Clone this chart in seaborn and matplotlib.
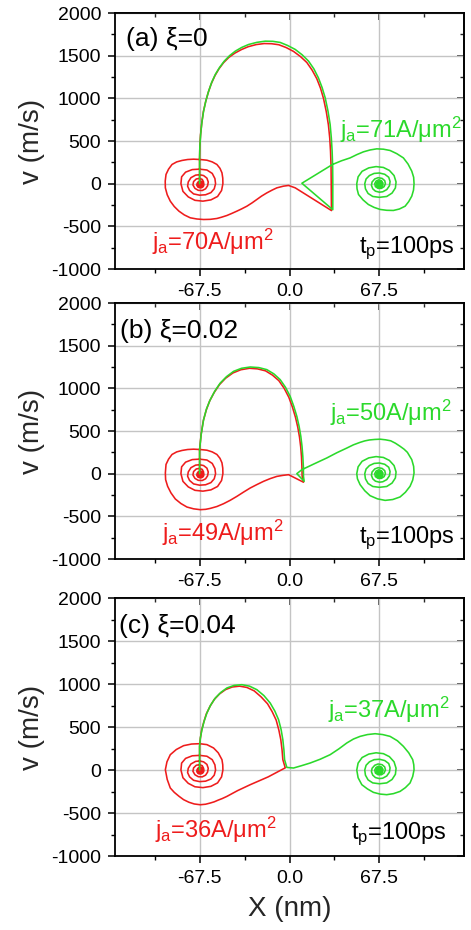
import numpy as np
import pandas as pd
import matplotlib
matplotlib.use("Agg")
import matplotlib.pyplot as plt
import seaborn as sns
from matplotlib.ticker import MultipleLocator, FixedLocator

# ---------------- data ----------------
x_ticks = [-67.5, 0.0, 67.5]
x_tick_labels = ["-67.5", "0.0", "67.5"]
x_minor = [-101.25, -33.75, 33.75, 101.25]

# shared inner spirals (left pinning site, red; right pinning site, green)
left_spiral_x = [-50, -51, -54, -59, -65, -71, -76, -80, -81.5, -81, -78, -73, -67.5, -62, -58, -56,
                 -55.5, -56.5, -59, -63, -67.5, -72, -75, -76.5, -76, -74, -70.5, -67.5, -64.5, -62,
                 -61, -61.5, -63, -65.5, -68.5, -71, -72.5, -72, -70, -67.5, -65.5, -64.5, -65, -66.5,
                 -68.5, -69.5, -69, -67.5, -66.5, -67, -67.5]
left_spiral_v = [0, -80, -150, -190, -205, -195, -155, -90, 0, 80, 135, 165, 170, 160, 120, 60,
                 0, -60, -105, -130, -135, -120, -80, -30, 20, 70, 100, 105, 95, 65,
                 20, -25, -60, -80, -78, -55, -15, 25, 55, 62, 50, 20, -15, -40,
                 -42, -20, 10, 30, 15, -10, 0]
right_spiral_x = [50.5, 51.5, 54.5, 59.5, 65, 70.5, 75, 78.5, 80, 79.5, 77, 73, 67.5, 62.5, 59, 57,
                  56.5, 57.5, 60, 63.5, 67.5, 71.5, 74.5, 75.5, 75, 73, 70, 67.5, 64.5, 62.5, 61.5,
                  62, 64, 66.5, 69.5, 71.5, 72, 71, 69, 66.5, 64.5, 64, 65, 67, 69, 70, 69.5, 68,
                  66.5, 66.5, 67.5]
right_spiral_v = [0, 80, 145, 185, 200, 190, 155, 95, 20, -50, -110, -150, -160, -150, -115, -60,
                  0, 55, 95, 120, 125, 110, 75, 25, -25, -70, -95, -100, -88, -60, -20,
                  20, 55, 70, 62, 35, 0, -35, -55, -55, -35, 0, 30, 45, 35, 10, -15, -28,
                  -15, 5, 0]

# panel (a) xi = 0
a_red_arc_x = [-67.5, -67.5, -67.3, -66.8, -65.9, -64.7, -63, -61, -58.7, -56, -53, -49.5, -45.5, -41,
               -36, -31, -25, -19, -13.5, -8, -2.5, 3, 8.2, 13, 17, 20.5, 23.3, 25.5, 27.6, 29.2,
               30.2, 30.8, 31.2, 31.3, 31.5]
a_red_arc_v = [0, 300, 440, 570, 705, 840, 958, 1070, 1172, 1265, 1345, 1418, 1480, 1530,
               1572, 1605, 1630, 1642, 1640, 1628, 1595, 1550, 1490, 1420, 1330, 1230, 1118, 1000, 845, 690,
               535, 380, 200, 30, -315]
a_red_back_x = [4.3, -0.7, -4.5, -9.5, -13, -17, -21, -24.5, -28, -32, -36, -39.5, -43.5, -47, -51,
                -54.5, -59.5, -64.5, -69.5, -74.5, -79, -83, -86.5, -89.5, -91.8, -93.2, -93.3,
                -92.7, -90.8, -88.2, -84.7, -80.7, -76.5, -72, -67, -62, -58, -54.5, -52.2, -50.7, -50.1]
a_red_back_v = [-49, -21, -29, -49, -75, -108, -146, -185, -224, -264, -296, -322, -350, -373, -393,
                -408, -418, -420, -414, -400, -366, -322, -268, -205, -130, -49, 30,
                108, 170, 225, 255, 272, 283, 287, 283, 275, 255, 225, 180, 127, 65]
a_green_arc_x = [-67.5, -67.5, -67.3, -66.7, -65.8, -64.5, -62.8, -60.7, -58.4, -55.7, -52.5, -49, -45,
                 -40.7, -35.8, -30.7, -24.5, -18.2, -12.5, -7, -1.5, 4.3, 9.5, 14.3, 18.3, 21.7, 24.5,
                 26.8, 28.9, 30.5, 31.4, 32, 32.4, 32.5, 32.5]
a_green_arc_v = [0, 300, 440, 577, 715, 850, 970, 1084, 1188, 1280, 1362, 1436, 1500,
                 1553, 1597, 1631, 1656, 1670, 1668, 1655, 1620, 1573, 1510, 1436, 1345, 1240, 1125,
                 1006, 850, 694, 535, 381, 200, 30, -305]
a_green_out_x = [9.3, 20.5, 32.3, 39, 45.5, 50.5, 55.5, 60.5, 65.5, 70.5, 75.5, 80.5, 85.5, 89, 91.8,
                 93.2, 93.5, 93.1, 91.8, 89.5, 86.8, 82.5, 78, 73, 68, 63.5, 59.2, 55.2, 51.8, 50.7]
a_green_out_v = [5, 112, 225, 268, 302, 340, 373, 395, 408, 404, 389, 352, 302, 230, 146,
                 75, 0, -75, -146, -210, -264, -297, -314, -312, -302, -278, -244, -190, -127, -60]

# panel (b) xi = 0.02
b_red_arc_x = [-67.5, -67.5, -66.4, -64.7, -62.5, -60, -56.5, -52.5, -48, -42.5, -36.5, -30, -24, -18,
               -12.8, -8, -4, -0.5, 2.2, 4.5, 6.2, 7.5, 8.4, 9, 9.3, 9.5, 10.5]
b_red_arc_v = [0, 281, 455, 620, 745, 850, 952, 1045, 1118, 1180, 1218, 1235, 1228, 1205,
               1155, 1090, 1000, 895, 780, 660, 545, 430, 315, 200, 85, -30, -100]
b_red_back_x = [-0.7, -5, -9.5, -14.5, -19.5, -24.5, -29.5, -34.5, -39.5, -44.5, -49.5, -54.5, -59.5,
                -63, -67, -72, -77, -81.5, -85.7, -89, -91.5, -93, -93.2, -92.7, -90.8, -88.2,
                -84.7, -80.7, -76.5, -72, -67, -62, -58, -54.5, -52.2, -50.7, -50.1]
b_red_back_v = [-12, -20, -32, -58, -90, -128, -168, -216, -266, -312, -352, -385, -407,
                -418, -422, -412, -391, -350, -297, -225, -148, -70, 8, 108, 170, 225,
                255, 272, 283, 287, 283, 275, 255, 225, 180, 127, 65]
b_green_arc_x = [-67.5, -67.5, -66.3, -64.5, -62.3, -59.5, -56, -52, -47.3, -42, -36, -29.5, -23, -17,
                 -11.8, -7, -3, 0.5, 3.2, 5.5, 7.2, 8.5, 9.4, 10, 10.4, 10.5, 11]
b_green_arc_v = [0, 281, 460, 633, 760, 867, 970, 1062, 1137, 1199, 1235, 1250, 1243, 1219,
                 1170, 1102, 1012, 906, 790, 672, 555, 437, 320, 203, 85, -32, -90]
b_green_out_x = [5.5, 9.3, 18.5, 28, 35.5, 43, 48, 53, 56.5, 60, 64, 68, 72, 76, 79.5, 83, 86, 88.5,
                 91.8, 93.2, 93.5, 92.5, 90.5, 87, 83, 77.5, 71.8, 66, 60.5, 56.5, 53, 51]
b_green_out_v = [0, 47, 115, 184, 245, 300, 338, 367, 384, 395, 401, 404, 397, 385, 357, 321, 287, 250,
                 164, 85, 8, -75, -148, -218, -273, -303, -313, -295, -258, -200, -129, -60]

# panel (c) xi = 0.04
c_red_arc_x = [-67.5, -67.5, -66.9, -66, -64.4, -62.5, -59.7, -56.5, -52.5, -48, -43, -37.5, -32, -26.5,
               -21.3, -16.5, -13, -10, -8, -6.5, -5.6, -5, -3.2]
c_red_arc_v = [0, 275, 370, 460, 555, 650, 740, 820, 885, 935, 965, 975, 960, 920,
               850, 770, 678, 580, 465, 350, 235, 120, 25]
c_red_back_x = [-16, -29.5, -39, -47, -50.5, -53.5, -56.5, -59.5, -63, -67, -71.5, -75.5, -79.5, -83,
                -86.5, -89.5, -91.8, -93.2, -92, -89.5, -85, -79.5, -73.5, -67.5, -62, -57, -53.5,
                -50.7, -50.1]
c_red_back_v = [-80, -171, -240, -307, -332, -350, -370, -384, -398, -404, -395, -375, -345, -305,
                -260, -209, -110, 3, 95, 178, 238, 283, 302, 306, 295, 256, 200,
                120, 60]
c_green_arc_x = [-67.5, -67.5, -66.9, -65.7, -64.1, -62, -59.2, -55.7, -51.6, -47, -41.5, -35.7, -30,
                 -24.5, -19.2, -14.5, -11, -8.2, -6.3, -5, -4.2, -3.7, -2]
c_green_arc_v = [0, 275, 375, 469, 567, 663, 755, 837, 902, 954, 984, 992, 975,
                 934, 865, 779, 685, 585, 470, 352, 235, 120, 30]
c_green_out_x = [3, 9, 15.5, 23, 30.5, 37, 43, 48, 53, 58.5, 64.3, 70, 75.5, 81, 85.5, 89.5, 92.5,
                 93.3, 93.5, 92.5, 90.5, 87, 83, 78, 73, 68, 63, 58.5, 54.3, 51.5]
c_green_out_v = [23, 50, 81, 125, 178, 245, 314, 360, 391, 412, 422, 412, 391, 340, 275, 200, 120,
                 60, 3, -75, -151, -205, -249, -275, -287, -280, -260, -220, -171, -90]

panel_titles = ["(a) ξ=0", "(b) ξ=0.02", "(c) ξ=0.04"]
red_labels = ["$j_a$=70A/μm$^2$", "$j_a$=49A/μm$^2$", "$j_a$=36A/μm$^2$"]
green_labels = ["$j_a$=71A/μm$^2$", "$j_a$=50A/μm$^2$", "$j_a$=37A/μm$^2$"]
tp_label = "$t_p$=100ps"

# ---------------- style ----------------
sns.set_theme(style="ticks")
plt.rcParams["font.family"] = ["Liberation Sans", "DejaVu Sans"]
plt.rcParams["mathtext.fontset"] = "custom"
plt.rcParams["mathtext.rm"] = "Liberation Sans"
plt.rcParams["mathtext.it"] = "Liberation Sans"
plt.rcParams["mathtext.bf"] = "Liberation Sans:bold"
plt.rcParams["axes.unicode_minus"] = False

RED = "#ee1c1c"
GREEN = "#2bd92b"

fig = plt.figure(figsize=(4.71, 9.30), dpi=100)

panels = [
    (a_red_arc_x + a_red_back_x + left_spiral_x, a_red_arc_v + a_red_back_v + left_spiral_v,
     a_green_arc_x + a_green_out_x + right_spiral_x, a_green_arc_v + a_green_out_v + right_spiral_v),
    (b_red_arc_x + b_red_back_x + left_spiral_x, b_red_arc_v + b_red_back_v + left_spiral_v,
     b_green_arc_x + b_green_out_x + right_spiral_x, b_green_arc_v + b_green_out_v + right_spiral_v),
    (c_red_arc_x + c_red_back_x + left_spiral_x, c_red_arc_v + c_red_back_v + left_spiral_v,
     c_green_arc_x + c_green_out_x + right_spiral_x, c_green_arc_v + c_green_out_v + right_spiral_v),
]

W, H = 471.0, 930.0
boxes = [(13, 269), (303, 559), (598, 856)]
text_pos = [
    dict(title=(-123, 1611), red=(-103, -771), green=(38, 537), tp=(124, -811)),
    dict(title=(-127, 1590), red=(-95.5, -793), green=(30.5, 613), tp=(124, -815)),
    dict(title=(-128, 1593), red=(-100.7, -791), green=(29, 605), tp=(118, -808)),
]

for i, ((rx, rv, gx, gv), (top, bot)) in enumerate(zip(panels, boxes)):
    ax = fig.add_axes([115 / W, 1 - bot / H, 349 / W, (bot - top) / H])
    dred = pd.DataFrame({"x": rx, "v": rv})
    dgreen = pd.DataFrame({"x": gx, "v": gv})
    sns.lineplot(data=dred, x="x", y="v", sort=False, estimator=None, color=RED, lw=1.15,
                 ax=ax, legend=False, marker="o", markevery=[len(dred) - 1], markersize=6,
                 markeredgewidth=0)
    sns.lineplot(data=dgreen, x="x", y="v", sort=False, estimator=None, color=GREEN, lw=1.15,
                 ax=ax, legend=False, marker="o", markevery=[len(dgreen) - 1], markersize=6,
                 markeredgewidth=0)
    ax.set_xlim(-131, 131)
    ax.set_ylim(-1000, 2000)
    ax.xaxis.set_major_locator(FixedLocator(x_ticks))
    ax.xaxis.set_minor_locator(FixedLocator(x_minor))
    ax.set_xticklabels(x_tick_labels)
    ax.yaxis.set_major_locator(MultipleLocator(500))
    ax.yaxis.set_minor_locator(MultipleLocator(250))
    ax.grid(True, which="major", color="#c4c4c4", lw=1.0)
    ax.set_axisbelow(True)
    for s in ax.spines.values():
        s.set_color("black")
        s.set_linewidth(1.3)
    ax.tick_params(which="major", direction="out", length=5, width=1.1, labelsize=14, pad=5,
                   colors="black")
    ax.tick_params(which="minor", direction="out", length=3, width=1.0, colors="black")
    # mirrored ticks (inward) on top and right
    sx = ax.secondary_xaxis("top")
    sx.xaxis.set_major_locator(FixedLocator(x_ticks))
    sx.xaxis.set_minor_locator(FixedLocator(x_minor))
    sx.tick_params(which="major", direction="in", length=5, width=1.1, labeltop=False)
    sx.tick_params(which="minor", direction="in", length=3, width=1.0)
    sx.spines["top"].set_linewidth(1.3)
    sy = ax.secondary_yaxis("right")
    sy.yaxis.set_major_locator(MultipleLocator(500))
    sy.yaxis.set_minor_locator(MultipleLocator(250))
    sy.tick_params(which="major", direction="in", length=5, width=1.1, labelright=False)
    sy.tick_params(which="minor", direction="in", length=3, width=1.0)
    sy.spines["right"].set_linewidth(1.3)

    ax.set_ylabel("v (m/s)", fontsize=20)
    ax.yaxis.set_label_coords(-0.2, 0.5)
    if i == 2:
        ax.set_xlabel("X (nm)", fontsize=20)
        ax.xaxis.set_label_coords(0.5, -0.155)
    else:
        ax.set_xlabel("")

    tp = text_pos[i]
    ax.text(*tp["title"], panel_titles[i], fontsize=19, color="black", ha="left", va="baseline")
    ax.text(*tp["red"], red_labels[i], fontsize=17, color=RED, ha="left", va="baseline")
    ax.text(*tp["green"], green_labels[i], fontsize=17, color=GREEN, ha="left", va="baseline")
    ax.text(*tp["tp"], tp_label, fontsize=17, color="black", ha="right", va="baseline")

fig.savefig("out.png", dpi=100)
